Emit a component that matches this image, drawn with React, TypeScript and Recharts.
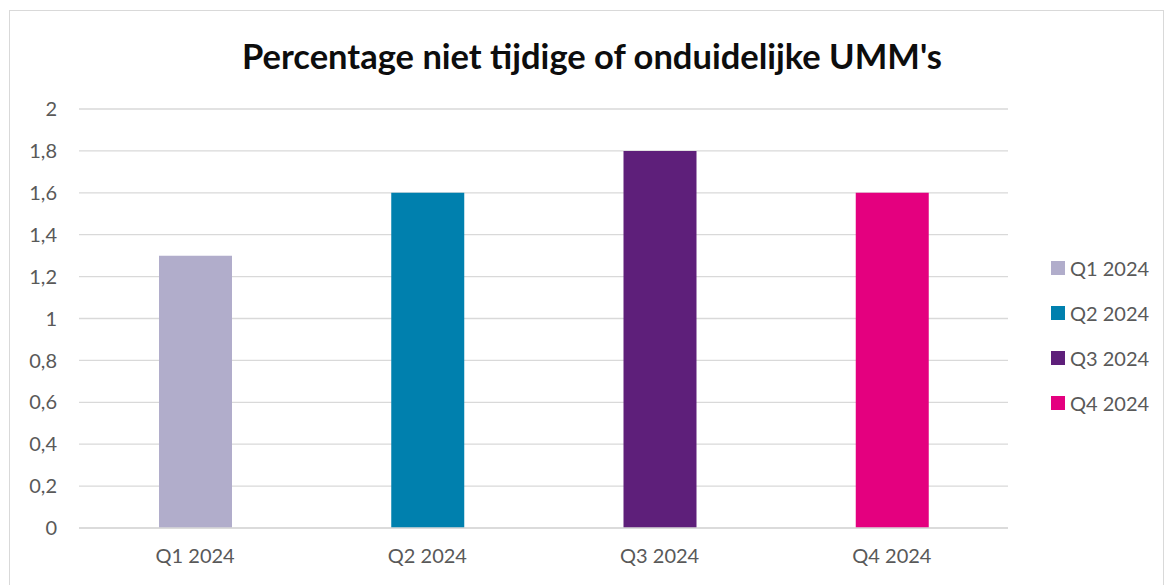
import { BarChart, Bar, Cell, XAxis, YAxis, CartesianGrid } from "recharts";

const quarters = ["Q1 2024", "Q2 2024", "Q3 2024", "Q4 2024"];
const percentages = [1.3, 1.6, 1.8, 1.6];
const barColors = ["#B1ADCB", "#0080AE", "#5E1F7A", "#E4007F"];
const yTicks = [0, 0.2, 0.4, 0.6, 0.8, 1, 1.2, 1.4, 1.6, 1.8, 2];

const FONT = "Lato, 'Open Sans', sans-serif";

const chartData = quarters.map((q, i) => ({ name: q, value: percentages[i] }));

// legend drawn next to the plot, same as the Excel original
const LegendBox = () => (
    <div style={{ position: "absolute", left: 1051, top: 245, fontFamily: FONT }}>
        {quarters.map((q, i) => (
            <div key={q} style={{ display: "flex", alignItems: "center", height: 45 }}>
                <span style={{ width: 14, height: 14, background: barColors[i], marginRight: 5 }} />
                <span style={{ fontSize: 20, color: "#595959" }}>{q}</span>
            </div>
        ))}
    </div>
);

export default function App() {
    return (
        <div style={{ position: "fixed", left: 0, top: 0, width: 1168, height: 585, overflow: "hidden", background: "#fff" }}>
            <div style={{ position: "absolute", left: 9, top: 10, width: 1153, height: 620, border: "1px solid #d9d9d9" }} />
            <div style={{
                position: "absolute", left: 0, width: 1168, top: 35, textAlign: "center",
                fontFamily: FONT, fontWeight: 700, fontSize: 34.5, color: "#0d0d0d", paddingLeft: 16, boxSizing: "border-box"
            }}>
                Percentage niet tijdige of onduidelijke UMM's
            </div>
            <div style={{ position: "absolute", left: 0, top: 0 }}>
                <BarChart width={1168} height={585} data={chartData}
                    margin={{ top: 109, right: 160, bottom: 27, left: 9 }}>
                    <CartesianGrid vertical={false} stroke="#d9d9d9" strokeWidth={1.3} />
                    <XAxis dataKey="name" axisLine={{ stroke: "#d9d9d9", strokeWidth: 1.3 }} tickLine={false}
                        tickSize={0} tickMargin={21} height={30} interval={0}
                        tick={{ fill: "#595959", fontSize: 20, fontFamily: FONT }} />
                    <YAxis width={70} domain={[0, 2]} ticks={yTicks} axisLine={false} tickLine={false}
                        tickSize={0} tickMargin={22} interval={0}
                        tickFormatter={(v: number) => String(v).replace(".", ",")}
                        tick={{ fill: "#595959", fontSize: 20, fontFamily: FONT }} />
                    <Bar dataKey="value" barSize={73} isAnimationActive={false}>
                        {chartData.map((d, i) => (
                            <Cell key={d.name} fill={barColors[i]} />
                        ))}
                    </Bar>
                </BarChart>
            </div>
            <LegendBox />
        </div>
    );
}
